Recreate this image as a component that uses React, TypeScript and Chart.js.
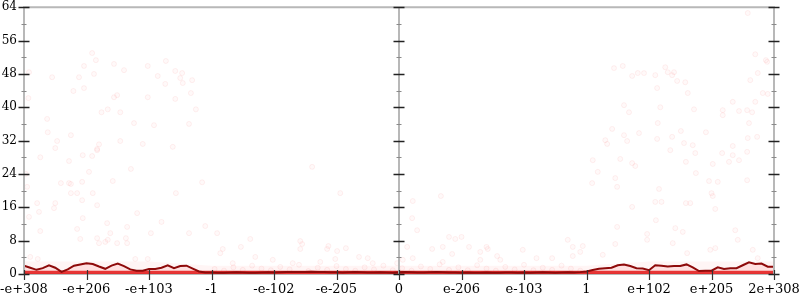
import { useEffect, useRef } from "react";
import { Chart, registerables } from "chart.js";
Chart.register(...registerables);

const xTickLabels = ["-e+308", "-e+206", "-e+103", "-1", "-e-102", "-e-205", "0", "e-206", "e-103", "1", "e+102", "e+205", "2e+308"];
const yMin = 0;
const yMax = 64;
const yMajorStep = 8;
const yMinorStep = 4;

// dark red running line, sampled every 0.1 unit across 0..12
const lineStep = 0.1;
const lineValues = [
  2.0, 1.5, 1.0, 1.4, 2.1, 1.5, 0.5, 1.1, 2.0, 2.3,
  2.6, 2.4, 1.8, 1.25, 2.0, 2.5, 1.9, 1.1, 0.8, 0.8,
  1.2, 1.2, 1.5, 2.1, 1.4, 1.9, 2.0, 1.3, 0.6, 0.35,
  0.35, 0.3, 0.3, 0.35, 0.4, 0.35, 0.3, 0.3, 0.35, 0.4,
  0.35, 0.4, 0.45, 0.5, 0.45, 0.5, 0.55, 0.5, 0.45, 0.4,
  0.4, 0.35, 0.4, 0.45, 0.4, 0.35, 0.35, 0.4, 0.35, 0.3,
  0.4, 0.45, 0.4, 0.35, 0.35, 0.4, 0.45, 0.4, 0.35, 0.35,
  0.3, 0.35, 0.3, 0.3, 0.35, 0.3, 0.3, 0.35, 0.35, 0.3,
  0.35, 0.3, 0.35, 0.4, 0.35, 0.3, 0.35, 0.4, 0.35, 0.45,
  0.6, 0.95, 1.25, 1.36, 1.5, 2.1, 2.3, 1.9, 1.4, 1.3,
  0.9, 2.1, 2.0, 1.8, 1.9, 1.9, 2.3, 1.6, 0.7, 0.8,
  0.8, 1.6, 1.2, 1.4, 1.4, 2.1, 2.8, 2.4, 2.5, 1.75,
  1.75,
];

// dense band of samples near zero
const bandX = [0, 12];
const bandY = [0.3, 0.3];

// low density haze per unit
const hazeX = [0, 1, 2, 3, 4, 5, 6, 7, 8, 9, 10, 11, 12];
const hazeY = [3, 3, 3, 2, 2, 2, 2, 2, 2, 2, 3, 3, 3];

// individual scattered samples
const scatterX = [
  1.09, 1.15, 0.96, 1.44, 1.6, 1.98, 2.27, 2.42, 2.53, 0.45, 0.88, 1.12, 2.14, 2.5, 2.69, 2.54, 2.26, 0.96, 0.79, 2.67,
  1.49, 1.44, 1.98, 2.42, 0.07, 2.75, 1.34, 1.24, 1.54, 0.37, 1.76, 2.08, 2.64, 0.38, 0.75, 0.53, 1.2, 1.54, 1.9, 2.38,
  0.5, 1.17, 0.08, 0.26, 0.94, 1.09, 1.17, 0.72, 1.04, 1.42, 0.93, 0.59, 0.72, 0.75, 1.71, 0.03, 0.05, 2.43, 0.75, 0.85,
  1.1, 0.93, 1.17, 0.5, 0.21, 0.48, 0.24, 1.81, 0.08, 0.94, 2.2, 1.33, 1.65, 0.26, 0.85, 1.38, 2.64, 2.03, 1.17, 1.34,
  1.63, 0.9, 1.2, 1.49, 1.65, 1.3, 0.1, 0.22, 1.78, 1.98,
  2.85, 4.61, 5.06, 2.9, 3.09, 3.62, 4.42, 4.45, 4.42, 4.87, 4.85, 5.01, 5.15, 3.47, 3.18, 3.14, 3.7, 3.98, 5.36, 5.5,
  5.58, 5.97, 4.98, 4.74, 4.3, 3.34,
  9.1, 9.18, 9.09, 6.67, 6.22, 6.21, 6.29, 6.8, 6.9, 7.0, 6.13, 6.7, 7.12, 7.4, 6.53, 7.42, 8.7, 8.78, 8.94, 7.98,
  6.85, 7.3, 7.57, 8.78, 8.9, 6.06, 6.22, 6.7, 8.45, 8.2, 7.62, 7.3,
  3.05, 3.2, 3.35, 3.5, 3.65, 3.8, 3.95, 4.1, 4.25, 4.4, 4.55, 4.7, 4.85, 5.0, 5.15, 5.3, 5.45, 5.6, 5.75, 5.9,
  6.05, 6.2, 6.35, 6.5, 6.65, 6.8, 6.95, 7.1, 7.25, 7.4, 7.55, 7.7, 7.85, 8.0, 8.15, 8.3, 8.45, 8.6, 8.75, 8.9,
  10.34, 10.74, 11.17, 11.34, 11.57, 9.54, 9.73, 9.78, 10.59, 11.28, 11.44, 10.75, 11.02, 9.46, 9.49, 10.96, 11.1, 11.57, 10.16, 11.0,
  11.02, 10.1, 10.2, 10.59, 10.66, 9.73, 11.06, 10.11, 9.49, 10.42, 10.54, 9.97, 9.97, 11.38, 11.42, 9.46, 10.38, 11.06, 10.98, 11.66,
  10.61, 9.26, 11.74,
  11.58, 11.7, 11.87, 11.89, 9.44, 9.58, 9.73, 9.82, 9.92, 10.1, 10.26, 10.3, 10.37, 10.4, 10.45, 10.58, 10.13, 10.62, 11.74, 11.62,
  11.82, 11.9, 11.34, 11.7, 9.6, 10.18, 10.72, 9.68, 11.18, 11.18, 11.44, 11.57, 11.65, 10.14, 11.6, 9.41, 9.84, 9.6, 10.51, 10.91,
  10.37, 9.65, 10.13, 10.56, 10.7, 11.73, 11.58, 11.34, 9.3, 9.33,
];
const scatterY = [
  53, 51.3, 49.9, 50.4, 48.9, 49.9, 51.1, 48.7, 48.2, 47.2, 47.2, 48, 47.5, 47, 46.5, 45.8, 45.6, 44.6, 43.9, 43.4,
  42.9, 42.4, 42.4, 42, 42.2, 39.5, 39.5, 38.8, 38.8, 37.2, 36.2, 35.7, 36, 34, 33.3, 31.9, 31.1, 31.9, 31.2, 30.5,
  30.2, 30, 48.4, 28, 28.5, 28.3, 29.7, 27.1, 24.5, 22.3, 22.1, 21.8, 21.8, 21.6, 25.2, 24, 20.9, 19.4, 19.4, 19.4,
  19.4, 17.7, 16.5, 17, 17, 15.8, 14.9, 14.6, 13.7, 13.4, 12.5, 12.2, 11.3, 10.3, 10.8, 9.8, 9.8, 9.8, 8.6, 8.2,
  8.6, 8.4, 7.4, 7.4, 7.4, 7.7, 4.1, 3.6, 3.6, 3.6,
  22, 25.7, 19.4, 11.5, 9.8, 8.4, 7.9, 7.2, 6, 6.7, 6, 5.5, 6.2, 6.5, 6, 5, 4.1, 3.4, 4.1, 3.8,
  2.6, 2.6, 3.6, 2.9, 2.6, 2.6,
  27.3, 24.5, 21.8, 18.7, 17.5, 13.4, 10.5, 8.9, 8.4, 8.9, 6.5, 6.5, 6.5, 6.5, 6, 6, 8.2, 6.5, 6.7, 5.8,
  4.8, 5.3, 4.3, 4.3, 5.3, 3.4, 3.8, 2.9, 3.8, 3.8, 3.4, 3.4,
  1.2, 0.8, 1.6, 1.0, 2.0, 1.3, 0.9, 1.7, 1.1, 2.2, 0.7, 1.5, 1.0, 1.9, 1.2, 0.8, 1.6, 1.1, 2.0, 0.9,
  1.4, 0.8, 1.8, 1.2, 2.3, 1.0, 1.6, 0.9, 2.1, 1.3, 0.8, 1.7, 1.1, 2.2, 0.9, 1.5, 1.0, 2.0, 1.3, 0.8,
  29.7, 29, 29, 28.5, 29.3, 27.6, 26.6, 25.9, 26.9, 26.9, 27.3, 24.2, 26.4, 23, 20.9, 22.3, 22.1, 22.5, 20.4, 19.4,
  18.7, 17.3, 17.3, 17, 17, 16.1, 15.6, 12.9, 11.3, 11, 10.1, 9.6, 8.2, 10.5, 8.2, 7.2, 7.4, 6.2, 5.8, 5.8,
  5, 4.6, 3.8,
  62.6, 52.7, 51.3, 50.9, 49.4, 49.9, 47.5, 48.2, 48.2, 47.7, 49.6, 48.4, 47.7, 48.4, 46.3, 46, 44.6, 43.4, 48.2, 46.5,
  43.4, 43.2, 41.3, 41.3, 40.5, 40, 39.5, 38.8, 39.3, 38.1, 39.1, 39.3, 38.8, 36.2, 36.2, 34.8, 33.8, 33.3, 34.3, 34,
  32.9, 31.9, 32.4, 31.4, 30.9, 32.9, 32.6, 30.7, 32.1, 31.2,
];

const axesPlugin = {
  id: "axesPlugin",
  beforeDatasetsDraw(chart: any) {
    const { ctx, chartArea: a } = chart;
    ctx.save();
    ctx.strokeStyle = "#b8b8b8";
    ctx.lineWidth = 2;
    ctx.beginPath();
    ctx.moveTo(a.left, a.bottom);
    ctx.lineTo(a.right, a.bottom);
    ctx.stroke();
    ctx.restore();
  },
  afterDatasetsDraw(chart: any) {
    const { ctx, chartArea: a, scales } = chart;
    const xs = scales.x;
    const ys = scales.y;
    const verticals = [xs.getPixelForValue(0), xs.getPixelForValue(6), xs.getPixelForValue(12)];
    ctx.save();
    ctx.strokeStyle = "#b8b8b8";
    ctx.lineWidth = 2;
    ctx.beginPath();
    verticals.forEach((px: number) => {
      ctx.moveTo(px, a.top);
      ctx.lineTo(px, a.bottom);
    });
    ctx.moveTo(a.left - 1, a.top);
    ctx.lineTo(a.right + 1, a.top);
    ctx.stroke();
    for (let v = yMin; v <= yMax; v += yMinorStep) {
      const py = Math.round(ys.getPixelForValue(v)) + 0.5;
      const major = v % yMajorStep === 0;
      ctx.strokeStyle = major ? "#222" : "#8a8a8a";
      ctx.lineWidth = major ? 1.5 : 1;
      const half = major ? 5.5 : 2.5;
      ctx.beginPath();
      verticals.forEach((px: number) => {
        ctx.moveTo(px - half, py);
        ctx.lineTo(px + half, py);
      });
      ctx.stroke();
    }
    ctx.strokeStyle = "#333";
    ctx.lineWidth = 1.2;
    ctx.beginPath();
    xTickLabels.forEach((_, i) => {
      const px = Math.round(xs.getPixelForValue(i)) + 0.5;
      ctx.moveTo(px, a.bottom - 4);
      ctx.lineTo(px, a.bottom + 6);
    });
    ctx.stroke();
    ctx.restore();
  },
};

export default function App() {
  const ref = useRef<HTMLCanvasElement>(null);
  useEffect(() => {
    document.body.style.margin = "0";
    const font = { family: "'DejaVu Serif'", size: 12 };
    const chart = new Chart(ref.current!, {
      type: "line",
      data: {
        datasets: [
          {
            label: "line",
            data: lineValues.map((y, i) => ({ x: i * lineStep, y })),
            borderColor: "#8e0a0a",
            borderWidth: 2,
            pointRadius: 0,
            fill: "origin",
            backgroundColor: "rgba(255,70,70,0.12)",
            tension: 0,
            order: 0,
          },
          {
            label: "band",
            data: bandX.map((x, i) => ({ x, y: bandY[i] })),
            borderColor: "rgba(225,30,30,0.9)",
            borderWidth: 4,
            pointRadius: 0,
            fill: false,
            order: 1,
          },
          {
            label: "samples",
            data: scatterX.map((x, i) => ({ x, y: scatterY[i] })),
            showLine: false,
            pointRadius: 2.5,
            pointBackgroundColor: "rgba(255,90,90,0.035)",
            pointBorderColor: "rgba(240,60,60,0.07)",
            pointBorderWidth: 1,
            order: 2,
          },
          {
            label: "haze",
            data: hazeX.map((x, i) => ({ x, y: hazeY[i] })),
            borderWidth: 0,
            borderColor: "rgba(0,0,0,0)",
            pointRadius: 0,
            fill: "origin",
            backgroundColor: "rgba(255,90,90,0.06)",
            order: 3,
          },
        ],
      },
      options: {
        responsive: false,
        animation: false,
        events: [],
        layout: { padding: { top: 7, right: 26, left: 0, bottom: 0 } },
        plugins: { legend: { display: false }, tooltip: { enabled: false } },
        scales: {
          x: {
            type: "linear",
            min: 0,
            max: 12,
            grid: { display: false, drawTicks: true, tickLength: 8 },
            border: { display: false },
            afterFit: (s: any) => {
              s.height = 26;
            },
            ticks: {
              stepSize: 1,
              autoSkip: false,
              maxRotation: 0,
              padding: 0,
              color: "#000",
              font: { ...font, size: 13 },
              callback: (v: any) => xTickLabels[Math.round(Number(v))] ?? "",
            },
          },
          y: {
            type: "linear",
            min: yMin,
            max: yMax,
            grid: { display: false, drawTicks: true, tickLength: 7 },
            border: { display: false },
            afterFit: (s: any) => {
              s.width = 24;
            },
            ticks: { stepSize: yMajorStep, padding: 0, color: "#000", font },
          },
        },
      },
      plugins: [axesPlugin],
    } as any);
    return () => chart.destroy();
  }, []);
  return (
    <div style={{ width: 800, height: 300 }}>
      <canvas ref={ref} width={800} height={300} style={{ display: "block" }} />
    </div>
  );
}
